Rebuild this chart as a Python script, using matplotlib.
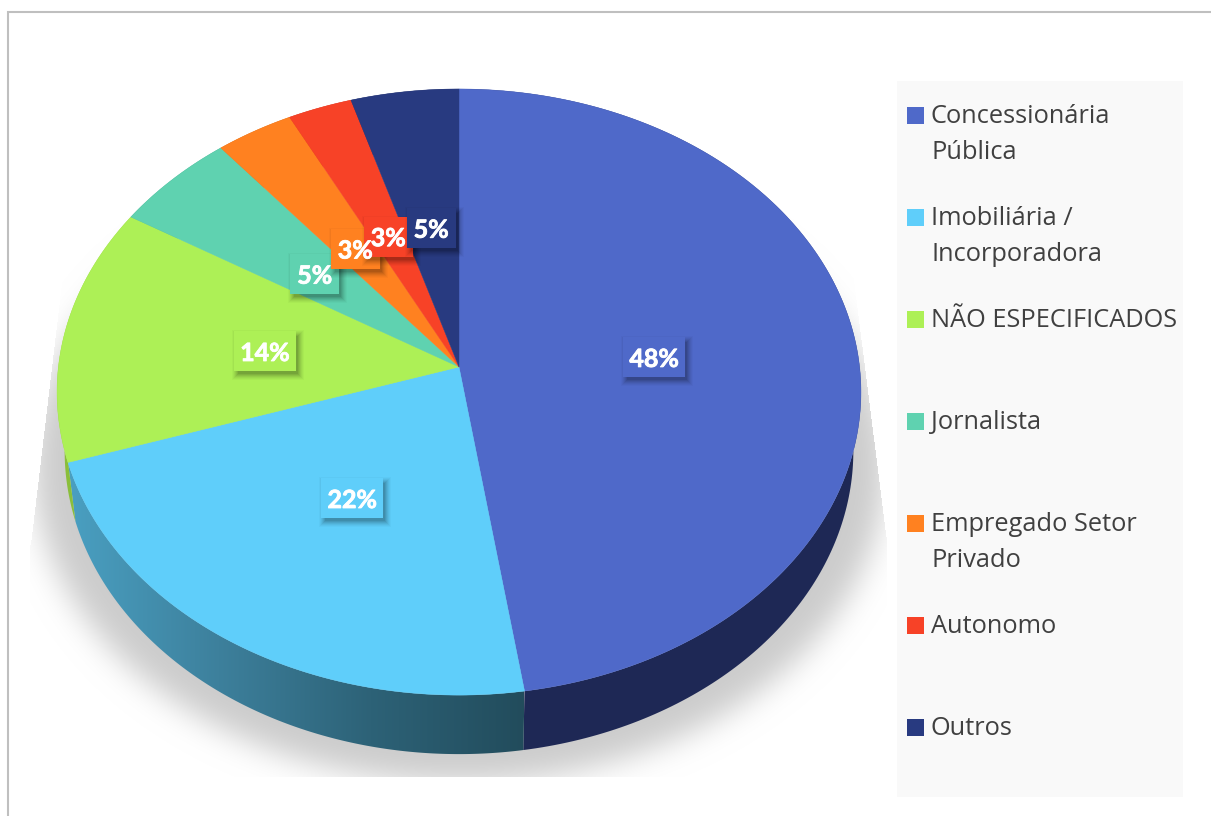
import numpy as np
import matplotlib
matplotlib.use("Agg")
import matplotlib.pyplot as plt
import matplotlib.patheffects as pe
from matplotlib.patches import Polygon, Rectangle

categories = ["Concessionária\nPública", "Imobiliária /\nIncorporadora", "NÃO ESPECIFICADOS",
              "Jornalista", "Empregado Setor\nPrivado", "Autonomo", "Outros"]
values = [47.6, 22.4, 13.7, 5.4, 3.4, 2.8, 4.7]
colors = ["#4F69C9", "#5FCEFA", "#ADF056", "#5FD2B0", "#FF8120", "#F74227", "#283A80"]
wall_colors = ["#1E2855", None, "#8ABF3A", "#3F8C76", "#B05A16", "#A82C1A", "#1A2655"]

W, H = 1211, 816
CX, CY = 459.0, 367.0      # apex of the pie on the canvas
A, B, K = 400.6, 301.0, 0.0826   # perspective of the top face


def project(theta, r=1.0, a=A, dy=0.0):
    """Clockwise angle from 12 o'clock -> canvas position, with perspective."""
    u, v = r * np.sin(theta), r * np.cos(theta)
    d = 1 + K * v
    return CX + a * u / d, CY - B * v / d + dy


fig = plt.figure(figsize=(W / 100, H / 100), dpi=100, facecolor="white")
ax = fig.add_axes([0, 0, 1, 1])
ax.set_xlim(0, W)
ax.set_ylim(H, 0)
ax.axis("off")

# frame
ax.plot([8, 8, W], [H, 12, 12], color="#BFBFBF", lw=1.5, solid_joinstyle="miter", zorder=1)


# soft shadow beneath the pie
def blur(img, sigma):
    n = int(3 * sigma)
    g = np.exp(-0.5 * (np.arange(-n, n + 1) / sigma) ** 2)
    g /= g.sum()
    img = np.apply_along_axis(lambda m: np.convolve(m, g, mode="same"), 0, img)
    return np.apply_along_axis(lambda m: np.convolve(m, g, mode="same"), 1, img)


yy, xx = np.mgrid[0:H, 0:W]
mask = (((xx - 459) / 426.0) ** 2 + ((yy - 466) / 316.0) ** 2 <= 1).astype(float)
mask = blur(mask, 15)
left = np.where(yy < 545, 50 - (yy - 380) * 19 / 160, 30)
right = np.where(yy < 545, 862 + (yy - 347) * 24 / 190, 886)
clip = (xx >= left) & (xx <= right) & (yy <= 776)
rgba = np.zeros((H, W, 4))
rgba[..., :3] = 0xCC / 255
rgba[..., 3] = mask * clip
ax.imshow(rgba, extent=(0, W, H, 0), aspect="auto", zorder=2, interpolation="bilinear")
ax.set_xlim(0, W)
ax.set_ylim(H, 0)

# slices: side wall, then top face
fractions = np.array(values) / sum(values)
edges = np.concatenate([[0], np.cumsum(fractions)]) * 2 * np.pi
WALL_A, WALL_DY = 393.0, 59.0

for i in range(len(values)):
    th = np.linspace(edges[i], edges[i + 1], 200)
    tx, ty = project(th)
    lx, ly = project(th, a=WALL_A, dy=WALL_DY)
    verts = np.r_[np.c_[tx, ty], np.c_[lx, ly][::-1]]
    patch = Polygon(verts, closed=True, lw=0, zorder=3,
                    facecolor=wall_colors[i] if wall_colors[i] else "none")
    ax.add_patch(patch)
    if wall_colors[i] is None:
        stops = np.array([[0x4A, 0xA0, 0xC2], [0x3D, 0x80, 0x9C], [0x2D, 0x62, 0x77], [0x22, 0x4C, 0x5C]]) / 255
        pos = np.linspace(0, 1, 4)
        t = np.linspace(0, 1, 500)
        grad = np.stack([np.interp(t, pos, stops[:, c]) for c in range(3)], axis=-1)[None, ...]
        im = ax.imshow(grad, extent=(66, 524, 760, 450), aspect="auto", zorder=3)
        im.set_clip_path(patch)
        ax.set_xlim(0, W)
        ax.set_ylim(H, 0)

for i in range(len(values)):
    th = np.linspace(edges[i], edges[i + 1], 200)
    tx, ty = project(th)
    ax.add_patch(Polygon(np.r_[[[CX, CY]], np.c_[tx, ty]], closed=True, facecolor=colors[i],
                         edgecolor=colors[i], lw=0.3, zorder=4))

# data labels in boxes with a soft drop shadow
for i, v in enumerate(values):
    mid = 0.5 * (edges[i] + edges[i + 1])
    x, y = project(mid, r=0.49)
    y += 1.5
    txt = f"{round(v)}%"
    w = 62 if len(txt) > 2 else 49
    h = 40
    for grow, al in [(5, 0.025), (4, 0.03), (3, 0.04), (2, 0.05), (1, 0.06), (0, 0.07), (-1, 0.08)]:
        ax.add_patch(Rectangle((x - w / 2 + 3 - grow, y - h / 2 + 4 - grow), w + 2 * grow, h + 2 * grow,
                               facecolor="black", alpha=al, lw=0, zorder=5 + i * 0.1))
    ax.add_patch(Rectangle((x - w / 2, y - h / 2), w, h, facecolor=colors[i], lw=0,
                           zorder=5.01 + i * 0.1))
    ax.text(x, y, txt, color="white", fontsize=18, fontweight="bold", family="Lato",
            ha="center", va="center_baseline", zorder=5.9,
            path_effects=[pe.withStroke(linewidth=0.6, foreground="white")])

# legend
ax.add_patch(Rectangle((897, 81), 286, 716, facecolor="#F9F9F9", lw=0, zorder=1.5))
for i, (name, c) in enumerate(zip(categories, colors)):
    yc = 115 + 102 * i
    ax.add_patch(Rectangle((907, yc - 8.5), 17, 17, facecolor=c, lw=0, zorder=6))
    for j, line in enumerate(name.split("\n")):
        ax.text(931, yc + 36 * j + 8, line, color="#404040", fontsize=18.25, family="Open Sans",
                ha="left", va="baseline", zorder=6)

fig.savefig("out.png", dpi=100, facecolor="white")
